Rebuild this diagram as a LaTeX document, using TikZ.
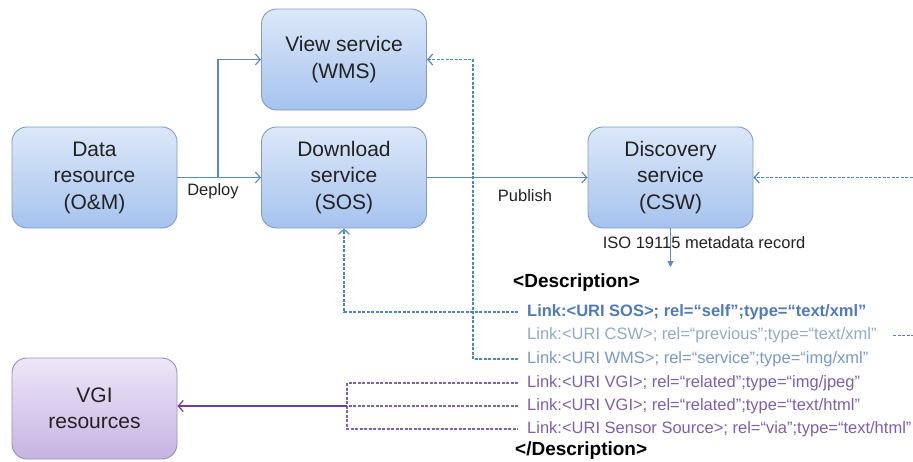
\documentclass[tikz,border=0pt]{standalone}
\usepackage{fontspec}
\setmainfont{Liberation Sans}
\usetikzlibrary{arrows.meta}
\definecolor{boxtop}{HTML}{DCE8F9}
\definecolor{boxbot}{HTML}{A6C3EE}
\definecolor{boxline}{HTML}{7E9DC8}
\definecolor{vgitop}{HTML}{EEE6F8}
\definecolor{vgibot}{HTML}{C6B4E2}
\definecolor{vgiline}{HTML}{9C8CC0}
\definecolor{conblue}{HTML}{5A8AC6}
\definecolor{dashblue}{HTML}{4A88C4}
\definecolor{dashpurple}{HTML}{8060B0}
\definecolor{solidpurple}{HTML}{7038A8}
\definecolor{txtone}{HTML}{4D7BBE}
\definecolor{txttwo}{HTML}{93A8CA}
\definecolor{txtthree}{HTML}{7897CC}
\definecolor{txtpurple}{HTML}{7E5EAE}
\definecolor{txtdark}{HTML}{222222}
\tikzset{
  svcbox/.style={draw=boxline, line width=0.9pt, rounded corners=15pt,
    top color=boxtop, bottom color=boxbot, minimum width=165pt,
    minimum height=101pt, inner sep=0pt, align=center, text=txtdark,
    font=\fontsize{21}{26.5}\selectfont},
  vgibox/.style={svcbox, draw=vgiline, top color=vgitop, bottom color=vgibot},
  barb/.style={-{Straight Barb[length=5pt,width=11pt]}},
  conn/.style={draw=conblue, line width=1.1pt, barb},
  dconn/.style={draw=dashblue, line width=1.2pt, dash pattern=on 3pt off 1.5pt},
  pconn/.style={draw=dashpurple, line width=1.2pt, dash pattern=on 3pt off 1.5pt},
  lbl/.style={font=\fontsize{16.5}{19}\selectfont, text=txtdark, inner sep=0pt},
  linktxt/.style={anchor=west, inner sep=0pt, font=\fontsize{16.5}{19}\selectfont},
  desc/.style={anchor=west, inner sep=0pt, font=\bfseries\fontsize{19}{22}\selectfont, text=black}
}
\begin{document}
\begin{tikzpicture}[x=1pt,y=-1pt]
\useasboundingbox (0,0) rectangle (913,461);
\clip (0,0) rectangle (913,461);

% boxes
\node[svcbox] (data) at (94.5,177.5) {Data\\resource\\(O\&M)};
\node[svcbox] (view) at (344,59.5) {View service\\(WMS)};
\node[svcbox] (down) at (344,177.5) {Download\\service\\(SOS)};
\node[svcbox] (disc) at (670.5,177.5) {Discovery\\service\\(CSW)};
\node[vgibox] (vgi) at (94.5,408.5) {VGI\\resources};

% solid connectors
\coordinate (br) at (218,177.5);
\draw[conn] (data.east) -- (down.west);
\draw[conn] (br) |- (view.west);
\draw[conn] (down.east) -- (disc.west);
\node[lbl] (deploy) at (213,191) {Deploy};
\node[lbl] (publish) at (525,196) {Publish};

% metadata record
\coordinate (mr) at (670.5,267);
\draw[draw=conblue, line width=1.1pt, -{Triangle[length=6pt,width=6pt]}] (disc.south) -- (mr);
\node[lbl] (iso) at (704,243) {ISO 19115 metadata record};

% description texts
\node[desc] (dopen) at (513,283) {<Description>};
\node[linktxt, text=txtone, font=\bfseries\fontsize{16.5}{19}\selectfont] (l1) at (527,312) {Link:<URI SOS>; rel=“self”;type=“text/xml”};
\node[linktxt, text=txttwo] (l2) at (527,335.5) {Link:<URI CSW>; rel=“previous”;type=“text/xml”};
\node[linktxt, text=txtthree] (l3) at (527,359) {Link:<URI WMS>; rel=“service”;type=“img/xml”};
\node[linktxt, text=txtpurple] (l4) at (527,383) {Link:<URI VGI>; rel=“related”;type=“img/jpeg”};
\node[linktxt, text=txtpurple] (l5) at (527,406) {Link:<URI VGI>; rel=“related”;type=“text/html”};
\node[linktxt, text=txtpurple] (l6) at (527,429) {Link:<URI Sensor Source>; rel=“via”;type=“text/html”};
\node[desc] (dclose) at (515,451) {</Description>};

% dashed blue connectors
\coordinate (s1) at (518,312);
\draw[dconn, barb] (s1) -| (down.south);
\coordinate (s3) at (518,359);
\coordinate (w3) at (473,359);
\draw[dconn, barb] (s3) -- (w3) |- (view.east);
\coordinate (s2) at (893,335.5);
\coordinate (e2) at (925,335.5);
\draw[dconn, barb] (s2) -- (e2) |- (disc.east);

% purple connectors
\coordinate (p4) at (518,383);
\coordinate (p5) at (518,406);
\coordinate (p6) at (518,429);
\coordinate (v4) at (347,383);
\coordinate (v5) at (347,406);
\coordinate (v6) at (347,429);
\draw[pconn] (p4) -- (v4) -- (v6) -- (p6);
\draw[pconn] (p5) -- (v5);
\draw[draw=solidpurple, line width=1.2pt, barb] (v5) -- (vgi.east |- v5);
\end{tikzpicture}
\end{document}
